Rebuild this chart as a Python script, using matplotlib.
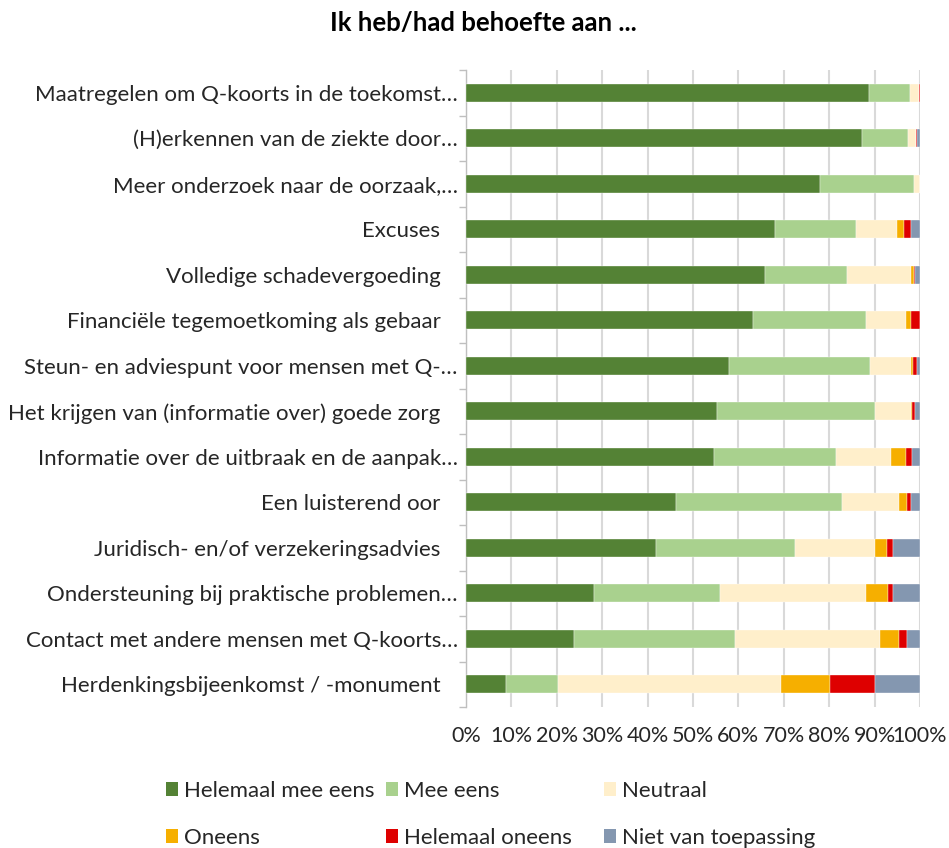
import matplotlib
matplotlib.use("Agg")
import matplotlib.pyplot as plt
import numpy as np
from matplotlib.patches import Patch

plt.rcParams['font.family'] = ['Lato', 'DejaVu Sans']

# categories, top to bottom
categories = [
    "Maatregelen om Q-koorts in de toekomst…",
    "(H)erkennen van de ziekte door…",
    "Meer onderzoek naar de oorzaak,…",
    "Excuses   ",
    "Volledige schadevergoeding   ",
    "Financiële tegemoetkoming als gebaar   ",
    "Steun- en adviespunt voor mensen met Q-…",
    "Het krijgen van (informatie over) goede zorg   ",
    "Informatie over de uitbraak en de aanpak…",
    "Een luisterend oor   ",
    "Juridisch- en/of verzekeringsadvies   ",
    "Ondersteuning bij praktische problemen…",
    "Contact met andere mensen met Q-koorts…",
    "Herdenkingsbijeenkomst / -monument   ",
]

helemaal_mee_eens = [88.8, 87.2, 78.0, 68.1, 65.9, 63.2, 57.9, 55.3, 54.6, 46.3, 41.9, 28.3, 23.8, 8.9]
mee_eens = [8.9, 10.2, 20.7, 17.9, 18.0, 24.8, 31.1, 34.8, 26.8, 36.6, 30.6, 27.6, 35.5, 11.3]
neutraal = [2.1, 1.8, 1.3, 8.9, 14.1, 9.0, 9.0, 8.0, 12.3, 12.5, 17.6, 32.1, 31.8, 49.2]
oneens = [0.0, 0.0, 0.0, 1.6, 0.7, 1.0, 0.5, 0.2, 3.3, 1.7, 2.6, 5.0, 4.3, 10.8]
helemaal_oneens = [0.2, 0.2, 0.0, 1.5, 0.3, 2.0, 0.8, 0.5, 1.2, 0.9, 1.4, 1.1, 1.7, 9.9]
niet_van_toepassing = [0.0, 0.6, 0.0, 2.0, 1.0, 0.0, 0.7, 1.2, 1.8, 2.0, 5.9, 5.9, 2.9, 9.9]

series = [
    ("Helemaal mee eens", helemaal_mee_eens, "#548235"),
    ("Mee eens", mee_eens, "#A9D18E"),
    ("Neutraal", neutraal, "#FFEFCB"),
    ("Oneens", oneens, "#F6AF00"),
    ("Helemaal oneens", helemaal_oneens, "#DE0000"),
    ("Niet van toepassing", niet_van_toepassing, "#8497B0"),
]

fig = plt.figure(figsize=(9.49, 8.48), dpi=100)
ax = fig.add_axes([466 / 949, 1 - 707 / 848, 454 / 949, 637 / 848])

y = np.arange(len(categories))
left = np.zeros(len(categories))
handles = []
for name, vals, col in series:
    vals = np.array(vals)
    ax.barh(y, vals, left=left, height=0.4, color=col, edgecolor="white",
            linewidth=0.25, zorder=3)
    left += vals
    handles.append(Patch(facecolor=col, label=name))

ax.set_ylim(len(categories) - 0.5, -0.5)
ax.set_xlim(0, 100)
ax.set_xticks(np.arange(0, 101, 10))
ax.set_xticklabels([f"{v}%" for v in range(0, 101, 10)], fontsize=15.5, color="#262626")
ax.tick_params(axis="x", length=0, pad=14)
ax.grid(axis="x", color="#d9d9d9", linewidth=1.5, zorder=0)

ax.set_yticks(y)
ax.set_yticklabels(categories, fontsize=16, color="#262626")
ax.set_yticks(np.arange(-0.5, len(categories), 1), minor=True)
ax.tick_params(axis="y", which="major", length=0, pad=6)
ax.tick_params(axis="y", which="minor", length=5, color="#bfbfbf", width=1)

for s in ["top", "right", "bottom"]:
    ax.spines[s].set_visible(False)
ax.spines["left"].set_color("#bfbfbf")
ax.spines["left"].set_linewidth(1)

fig.text(483 / 949, 1 - 23 / 848, "Ik heb/had behoefte aan ...", ha="center",
         va="center", fontsize=18.5, fontweight="bold", color="#000000")

# legend: three columns placed separately to match spacing
col_x = [166, 386, 604]
for i, cx in enumerate(col_x):
    leg = fig.legend(handles=[handles[i], handles[i + 3]], loc="upper left",
                     bbox_to_anchor=(cx / 949, 1 - 781 / 848), frameon=False,
                     fontsize=16, handlelength=0.55, handleheight=0.55,
                     handletextpad=0.25, labelspacing=1.2, borderaxespad=0,
                     borderpad=0)
    for t in leg.get_texts():
        t.set_color("#262626")

fig.savefig("out.png", dpi=100)
